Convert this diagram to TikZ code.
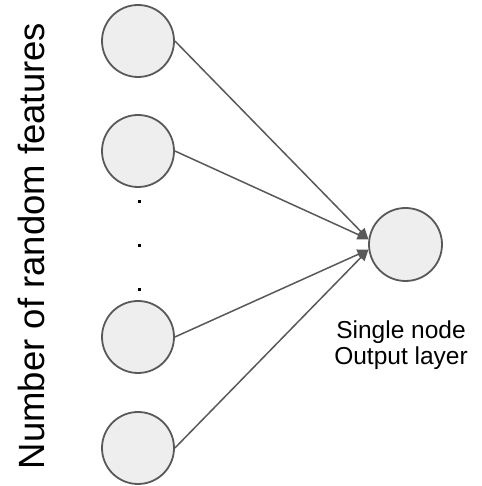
\documentclass[tikz,border=0pt]{standalone}
\usepackage{fontspec}
\setmainfont{Liberation Sans}
\usetikzlibrary{arrows.meta}
\definecolor{nodefill}{HTML}{EEEEEE}
\definecolor{edgecol}{HTML}{595959}
\begin{document}
\begin{tikzpicture}[x=1pt,y=1pt,
  neuron/.style={circle,draw=edgecol,fill=nodefill,line width=1.8pt,minimum size=72pt,inner sep=0pt},
  conn/.style={draw=edgecol,line width=1.5pt,-{Triangle[length=11pt,width=10pt]}},
  dotmark/.style={rectangle,fill=black,minimum size=3pt,inner sep=0pt}]
\useasboundingbox[fill=white] (0,0) rectangle (481,486);
\node[neuron] (in1) at (138,445) {};
\node[neuron] (in2) at (138,335) {};
\node[neuron] (in3) at (138,149) {};
\node[neuron] (in4) at (138,38) {};
\node[neuron,minimum size=73pt] (out) at (405.5,241.5) {};
\node[dotmark] (d1) at (139,284) {};
\node[dotmark] (d2) at (139,240) {};
\node[dotmark] (d3) at (139,196) {};
\draw[conn] (in1.east) -- (out.172);
\draw[conn] (in2.east) -- (out.172);
\draw[conn] (in3.east) -- (out.188);
\draw[conn] (in4.east) -- (out.188);
\node[rotate=90,font=\fontsize{36.5}{42}\selectfont] (lbl) at (31,240) {Number of random features};
\node[align=center,font=\fontsize{24.5}{26.5}\selectfont] (outlbl) at (401,141) {Single node\\Output layer};
\end{tikzpicture}
\end{document}
